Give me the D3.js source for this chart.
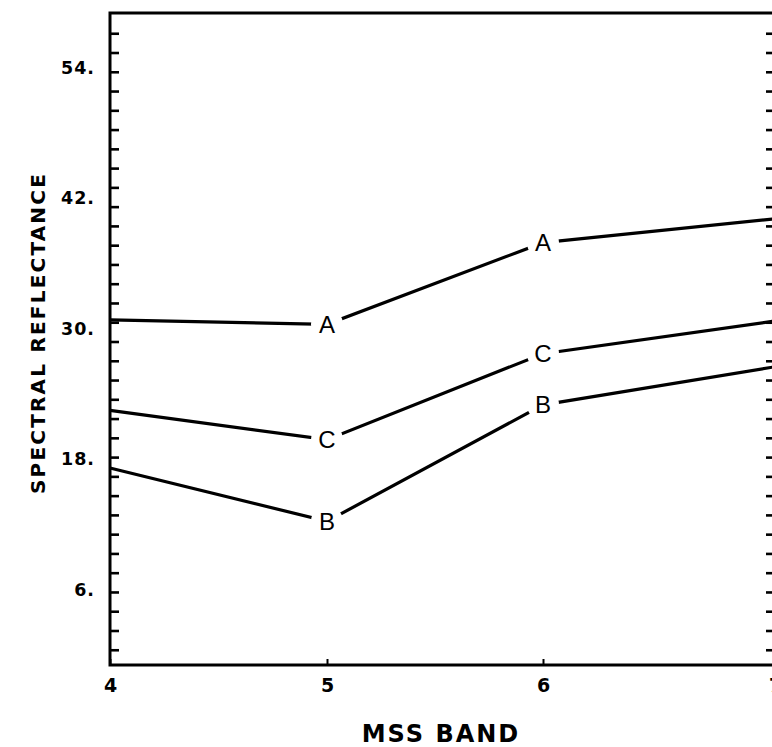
<!DOCTYPE html>
<html>
<head>
<meta charset="utf-8">
<script src="https://cdn.jsdelivr.net/npm/d3@7"></script>
<style>
  html, body { margin: 0; padding: 0; background: #fff; overflow: hidden; }
  svg { display: block; font-family: "Liberation Sans", Arial, sans-serif; }
  .tick-label { font-family: "DejaVu Sans", sans-serif; font-weight: bold; fill: #000; }
  .axis-title { font-family: "DejaVu Sans", sans-serif; font-weight: bold; fill: #000; }
  .series-label { font-size: 24px; fill: #000; }
</style>
</head>
<body>
<div id="chart"></div>
<script>
const WIDTH = 772;
const HEIGHT = 747;

// MSS bands on x, reflectance on y
const BANDS = [4, 5, 6, 7];
const SERIES_NAMES = ["A", "B", "C"];
const SERIES_A = [30.8, 30.4, 37.9, 40.1];
const SERIES_B = [17.2, 12.3, 23.0, 26.5];
const SERIES_C = [22.5, 19.8, 27.7, 30.7];
const LABELLED_BANDS = [5, 6];
const Y_TICK_LABELS = [6, 18, 30, 42, 54];

const seriesValues = { A: SERIES_A, B: SERIES_B, C: SERIES_C };

const svg = d3.select("#chart")
  .append("svg")
  .attr("width", WIDTH)
  .attr("height", HEIGHT);

svg.append("rect").attr("width", WIDTH).attr("height", HEIGHT).attr("fill", "#fff");

// plot is cropped on the right in the original, frame sits just past the edge
const x = d3.scaleLinear().domain([4, 5, 6, 7]).range([110, 327, 543, 775]);
const y = d3.scaleLinear().domain([-0.9, 59]).range([665, 13]);

const minorTicks = d3.range(0.5, 58, 1.77);

// —— inward minor ticks, left and right ——
const leftTicks = svg.append("g")
  .attr("transform", `translate(${x(4)},0)`)
  .call(d3.axisLeft(y).tickValues(minorTicks).tickSizeInner(-9).tickSizeOuter(0).tickFormat(""));
leftTicks.select(".domain").remove();
leftTicks.selectAll("line").attr("stroke-width", 2.6);

const rightTicks = svg.append("g")
  .attr("transform", `translate(${x(7)},0)`)
  .call(d3.axisRight(y).tickValues(minorTicks).tickSizeInner(-9).tickSizeOuter(0).tickFormat(""));
rightTicks.select(".domain").remove();
rightTicks.selectAll("line").attr("stroke-width", 2.6);

// y labels
const yLabels = svg.append("g")
  .attr("transform", `translate(${x(4)},0)`)
  .call(d3.axisLeft(y).tickValues(Y_TICK_LABELS).tickSize(0).tickPadding(15).tickFormat((d) => `${d}.`));
yLabels.select(".domain").remove();
yLabels.selectAll("text")
  .attr("class", "tick-label")
  .attr("font-family", null)
  .style("font-size", "17.5px")
  .style("letter-spacing", "1px");

// x axis: small upward ticks, labels below
const xAxis = svg.append("g")
  .attr("transform", `translate(0,${y(-0.9)})`)
  .call(d3.axisBottom(x).tickValues(BANDS).tickSizeInner(-6).tickSizeOuter(0).tickPadding(14).tickFormat(d3.format("d")));
xAxis.select(".domain").remove();
xAxis.selectAll("line").attr("stroke-width", 2);
xAxis.selectAll("text")
  .attr("class", "tick-label")
  .attr("font-family", null)
  .style("font-size", "19px");

// frame
svg.append("rect")
  .attr("x", x(4))
  .attr("y", y(59))
  .attr("width", x(7) - x(4))
  .attr("height", y(-0.9) - y(59))
  .attr("fill", "none")
  .attr("stroke", "#000")
  .attr("stroke-width", 3);

// —— series lines ——
const line = d3.line()
  .x((d) => x(d.band))
  .y((d) => y(d.value));

const seriesData = SERIES_NAMES.map((name) => ({
  name,
  points: BANDS.map((band, i) => ({ band, value: seriesValues[name][i] })),
}));

svg.append("g")
  .selectAll("path")
  .data(seriesData)
  .join("path")
  .attr("d", (d) => line(d.points))
  .attr("fill", "none")
  .attr("stroke", "#000")
  .attr("stroke-width", 3.2);

// gaps in the lines where the letters sit
const labelPoints = seriesData.flatMap((s) =>
  s.points.filter((p) => LABELLED_BANDS.includes(p.band)).map((p) => ({ ...p, name: s.name }))
);

svg.append("g")
  .selectAll("circle")
  .data(labelPoints)
  .join("circle")
  .attr("cx", (d) => x(d.band))
  .attr("cy", (d) => y(d.value))
  .attr("r", 16)
  .attr("fill", "#fff");

svg.append("g")
  .selectAll("text")
  .data(labelPoints)
  .join("text")
  .attr("class", "series-label")
  .attr("x", (d) => x(d.band))
  .attr("y", (d) => y(d.value))
  .attr("text-anchor", "middle")
  .attr("dy", "0.36em")
  .text((d) => d.name);

// —— titles ——
svg.append("text")
  .attr("class", "axis-title")
  .attr("x", 441)
  .attr("y", 733)
  .attr("text-anchor", "middle")
  .attr("dy", "0.36em")
  .style("font-size", "24px")
  .style("letter-spacing", "2px")
  .text("MSS BAND");

svg.append("text")
  .attr("class", "axis-title")
  .attr("transform", "translate(38,333) rotate(-90)")
  .attr("text-anchor", "middle")
  .attr("dy", "0.36em")
  .style("font-size", "20px")
  .style("letter-spacing", "2.2px")
  .text("SPECTRAL REFLECTANCE");
</script>
</body>
</html>
